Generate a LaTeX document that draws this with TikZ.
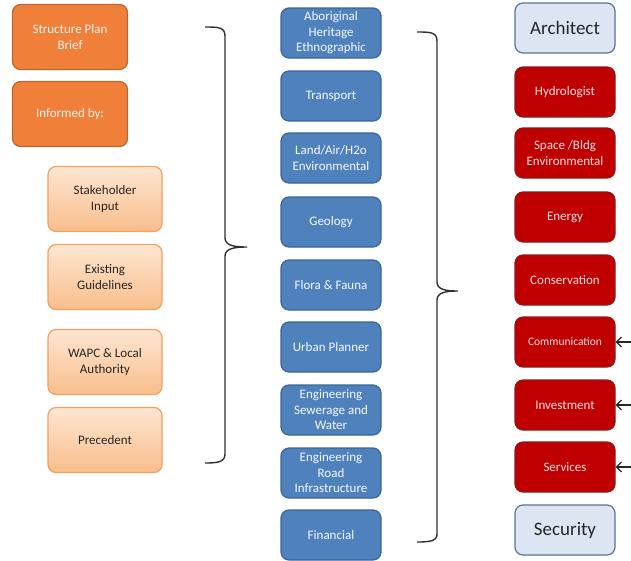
\documentclass[tikz,border=0pt]{standalone}
\usepackage{fontspec}
\setmainfont{Carlito}
\usetikzlibrary{arrows.meta}
\definecolor{dorange}{HTML}{F07F3A}
\definecolor{dorangeb}{HTML}{B8682E}
\definecolor{lorangetop}{HTML}{FDE6D2}
\definecolor{lorangebot}{HTML}{F9BE8C}
\definecolor{lorangeb}{HTML}{F0A060}
\definecolor{mblue}{HTML}{4F81BD}
\definecolor{mblueb}{HTML}{3A6595}
\definecolor{mred}{HTML}{C00000}
\definecolor{mredb}{HTML}{8A1A1A}
\definecolor{lblue}{HTML}{DCE6F2}
\definecolor{lblueb}{HTML}{5A7390}
\definecolor{bracec}{HTML}{303030}
\tikzset{
  base/.style={rounded corners=8pt, line width=1.2pt, align=center, inner sep=1pt, font=\fontsize{13}{15.5}\selectfont},
  darkbox/.style={base, fill=dorange, draw=dorangeb, minimum width=115pt, minimum height=65pt, text=white!92!dorange},
  lightbox/.style={base, top color=lorangetop, bottom color=lorangebot, draw=lorangeb, minimum width=114pt, minimum height=65pt, text=black!85},
  bluebox/.style={base, fill=mblue, draw=mblueb, minimum width=100pt, minimum height=50pt, text=white!95!mblue},
  redbox/.style={base, fill=mred, draw=mredb, minimum width=100pt, minimum height=50pt, text=white!88!mred},
  archbox/.style={base, fill=lblue, draw=lblueb, minimum width=100pt, minimum height=50pt, text=black!85, font=\fontsize{19}{22}\selectfont},
  bracepath/.style={draw=bracec, line width=1.4pt},
  feed/.style={draw=black!85, line width=1.2pt, -{Straight Barb[length=5pt,width=10pt]}}
}
\begin{document}
\begin{tikzpicture}[x=1pt,y=-1pt]
\useasboundingbox (0,0) rectangle (631,560);
% left column
\node[darkbox] (spb) at (70,37) {Structure Plan\\Brief};
\node[darkbox] (inf) at (70,114) {Informed by:};
\node[lightbox] (stk) at (105,199) {Stakeholder\\Input};
\node[lightbox] (ex) at (105,277) {Existing\\Guidelines};
\node[lightbox] (wapc) at (105,362) {WAPC \& Local\\Authority};
\node[lightbox] (prec) at (105,440) {Precedent};
% middle column
\node[bluebox] (abo) at (331,33) {Aboriginal\\Heritage\\Ethnographic};
\node[bluebox] (tra) at (331,96) {Transport};
\node[bluebox] (land) at (331,158) {Land/Air/H2o\\Environmental};
\node[bluebox] (geo) at (331,222) {Geology};
\node[bluebox] (flo) at (331,285) {Flora \& Fauna};
\node[bluebox] (urb) at (331,347) {Urban Planner};
\node[bluebox] (sew) at (331,410) {Engineering\\Sewerage and\\Water};
\node[bluebox] (road) at (331,473) {Engineering\\Road\\Infrastructure};
\node[bluebox] (fin) at (331,535) {Financial};
% right column
\node[archbox] (arch) at (565,28) {Architect};
\node[redbox] (hyd) at (565,92) {Hydrologist};
\node[redbox] (spc) at (565,153) {Space /Bldg\\Environmental};
\node[redbox] (ene) at (565,217) {Energy};
\node[redbox] (con) at (565,280) {Conservation};
\node[redbox, font=\fontsize{11.5}{14}\selectfont] (com) at (565,342) {Communication};
\node[redbox] (inv) at (565,405) {Investment};
\node[redbox] (ser) at (565,467) {Services};
\node[archbox] (sec) at (565,530) {Security};
% braces
\draw[bracepath] (205,27) .. controls (218,27) and (225,27) .. (225,36)
  -- (225,238) .. controls (225,246) and (236,247) .. (247,247)
  .. controls (236,247) and (225,248) .. (225,256)
  -- (225,454) .. controls (225,462) and (218,463) .. (205,463);
\draw[bracepath] (417,32) .. controls (430,32) and (437,32) .. (437,41)
  -- (437,282) .. controls (437,290) and (447,291) .. (458,291)
  .. controls (447,291) and (437,292) .. (437,300)
  -- (437,534) .. controls (437,541) and (430,542) .. (417,542);
% feed arrows
\coordinate (a1) at (632,342);
\coordinate (a2) at (632,405);
\coordinate (a3) at (632,467);
\draw[feed] (a1) -- (com.east);
\draw[feed] (a2) -- (inv.east);
\draw[feed] (a3) -- (ser.east);
\end{tikzpicture}
\end{document}
